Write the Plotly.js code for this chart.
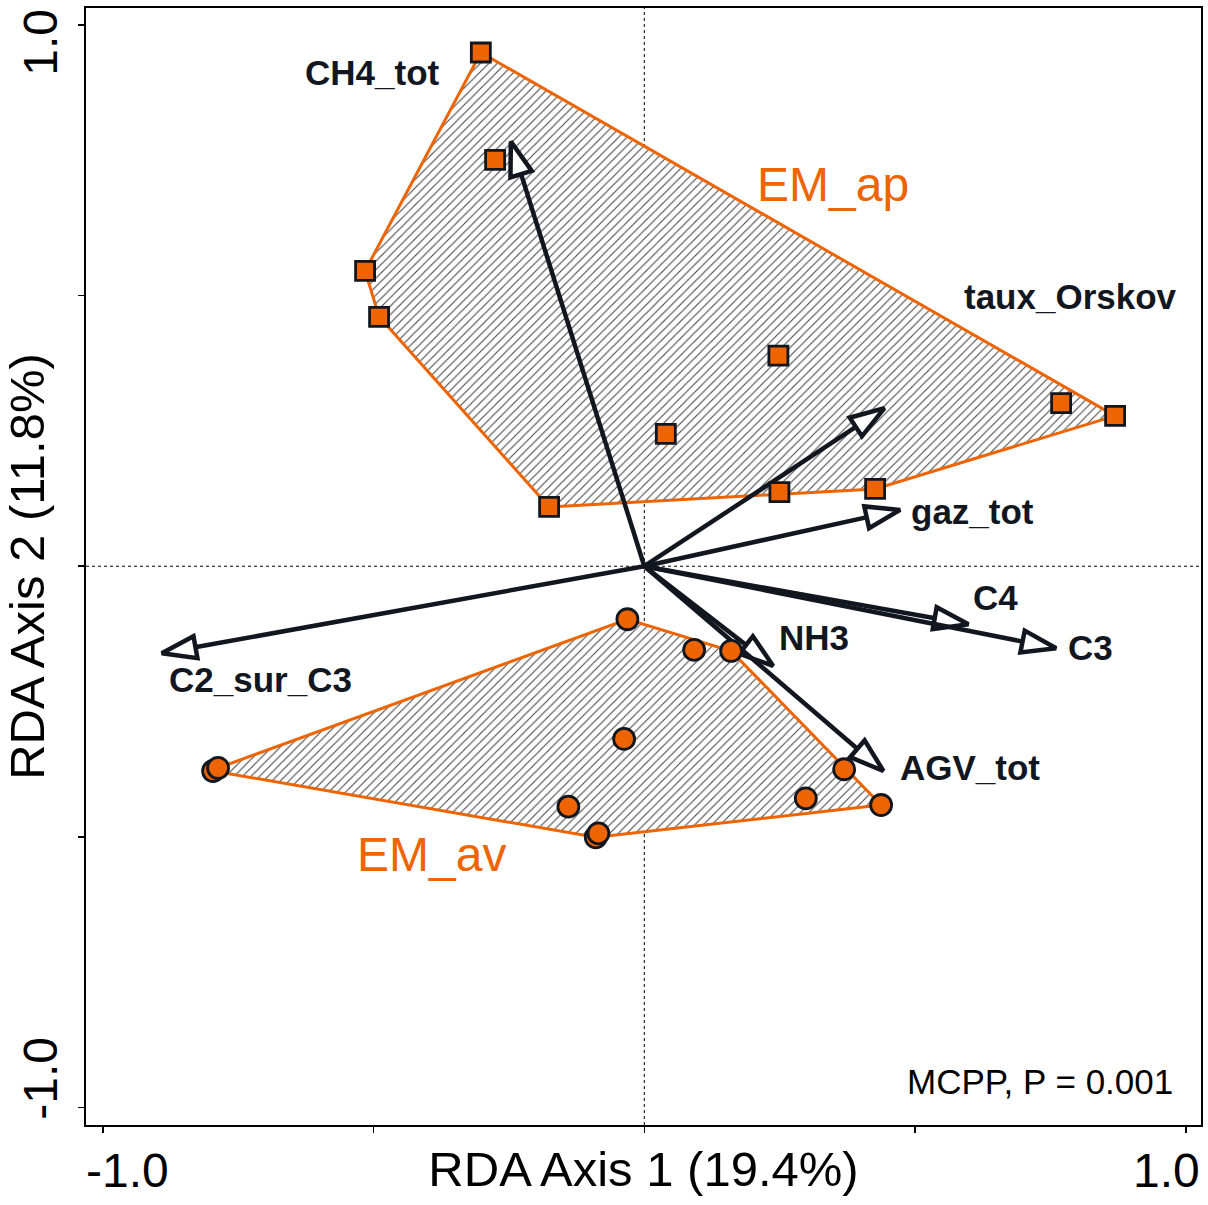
<!DOCTYPE html>
<html>
<head>
<meta charset="utf-8">
<script src="https://cdn.plot.ly/plotly-3.0.1.min.js"></script>
<style>html,body{margin:0;padding:0;background:#fff;}#chart{width:1208px;height:1205px;}</style>
</head>
<body>
<div id="chart"></div>
<script>
// ---- Data ----
var apX = [-0.3019, -0.2755, -0.5156, -0.4898, 0.2476, 0.0397, 0.7697, 0.8694, 0.2495, 0.4262, -0.1758];
var apY = [0.9488, 0.7506, 0.5455, 0.4606, 0.3891, 0.2444, 0.3011, 0.2777, 0.1367, 0.1428, 0.1096];

var avX = [-0.0312, 0.0920, 0.1603, -0.0373, -0.1402, -0.0896, -0.0848, 0.2982, 0.3690, 0.4373, -0.7963, -0.7871];
var avY = [-0.0979, -0.1546, -0.1565, -0.3190, -0.4441, -0.5006, -0.4933, -0.4286, -0.3750, -0.4410, -0.3782, -0.3726];

var varNames = ["CH4_tot", "taux_Orskov", "gaz_tot", "C4", "C3", "NH3", "AGV_tot", "C2_sur_C3"];
var varX = [-0.2465, 0.4434, 0.4724, 0.5985, 0.7605, 0.2379, 0.4415, -0.8911];
var varY = [0.7844, 0.2919, 0.1040, -0.1072, -0.1515, -0.1842, -0.3782, -0.1607];
var labelX = [-0.5027, 0.7873, 0.4890, 0.6035, 0.7790, 0.2450, 0.4685, -0.8810];
var labelY = [0.9113, 0.4975, 0.1003, -0.0576, -0.1509, -0.1315, -0.3726, -0.2100];
var labelAnchor = ["center", "center", "left", "left", "left", "left", "left", "left"];

var groupNames = ["EM_ap", "EM_av"];
var groupLabelX = [0.2046, -0.5341];
var groupLabelY = [0.7044, -0.5333];

var axisTickVals = [-1, -0.5, 0, 0.5, 1];
var axisTickText = ["-1.0", "1.0"];
var axisTitles = ["RDA Axis 1 (19.4%)", "RDA Axis 2 (11.8%)"];
var testText = "MCPP, P = 0.001";

// ---- Helpers ----
function hull(xs, ys) {
  var pts = xs.map(function (x, i) { return [x, ys[i]]; });
  pts.sort(function (a, b) { return a[0] - b[0] || a[1] - b[1]; });
  function cross(o, a, b) { return (a[0] - o[0]) * (b[1] - o[1]) - (a[1] - o[1]) * (b[0] - o[0]); }
  var lower = [], upper = [];
  pts.forEach(function (p) {
    while (lower.length >= 2 && cross(lower[lower.length - 2], lower[lower.length - 1], p) <= 0) lower.pop();
    lower.push(p);
  });
  for (var i = pts.length - 1; i >= 0; i--) {
    var p = pts[i];
    while (upper.length >= 2 && cross(upper[upper.length - 2], upper[upper.length - 1], p) <= 0) upper.pop();
    upper.push(p);
  }
  upper.pop(); lower.pop();
  var h = lower.concat(upper);
  h.push(h[0]);
  return { x: h.map(function (p) { return p[0]; }), y: h.map(function (p) { return p[1]; }) };
}

var ORANGE = "#EE6400";
var INK = "#12161f";
var FONT = "Liberation Sans, Arial, sans-serif";

var traces = [];
[[apX, apY], [avX, avY]].forEach(function (g) {
  var h = hull(g[0], g[1]);
  traces.push({
    type: "scatter", mode: "lines", x: h.x, y: h.y,
    fill: "toself", fillcolor: "white",
    fillpattern: { shape: "/", size: 6, solidity: 0.18, fgcolor: "#444444", bgcolor: "white" },
    line: { color: ORANGE, width: 3 }, hoverinfo: "skip"
  });
});

varNames.forEach(function (n, i) {
  traces.push({
    type: "scatter", mode: "lines+markers", name: n,
    x: [0, varX[i]], y: [0, varY[i]],
    line: { color: INK, width: 4.5 },
    marker: { symbol: "arrow", angleref: "previous", size: [0, 36], color: "white", opacity: 1,
              line: { color: INK, width: 4.5 } },
    hoverinfo: "skip"
  });
});

traces.push({
  type: "scatter", mode: "markers", x: apX, y: apY, name: "EM_ap",
  marker: { symbol: "square", size: 19, color: ORANGE, line: { color: INK, width: 2.8 } }
});
traces.push({
  type: "scatter", mode: "markers", x: avX, y: avY, name: "EM_av",
  marker: { symbol: "circle", size: 21, color: ORANGE, line: { color: INK, width: 2.8 } }
});

var annotations = [];
varNames.forEach(function (n, i) {
  annotations.push({
    x: labelX[i], y: labelY[i], xref: "x", yref: "y", text: n, showarrow: false,
    xanchor: labelAnchor[i], yanchor: "middle",
    font: { family: FONT, size: 35, color: INK, weight: "bold" }
  });
});
groupNames.forEach(function (n, i) {
  annotations.push({
    x: groupLabelX[i], y: groupLabelY[i], xref: "x", yref: "y", text: n, showarrow: false,
    xanchor: "left", yanchor: "middle",
    font: { family: FONT, size: 48, color: ORANGE }
  });
});
annotations.push({
  x: 0.9767, y: 0.0385, xref: "paper", yref: "paper", text: testText, showarrow: false,
  xanchor: "right", yanchor: "middle", font: { family: FONT, size: 35, color: "#000" }
});
// tick labels (only the end ticks are labelled, pulled inside)
annotations.push({ x: axisTickVals[0], y: 0, xref: "x", yref: "paper", text: axisTickText[0], showarrow: false,
  xanchor: "center", yanchor: "middle", xshift: 25, yshift: -45, font: { family: FONT, size: 48, color: "#000" } });
annotations.push({ x: axisTickVals[4], y: 0, xref: "x", yref: "paper", text: axisTickText[1], showarrow: false,
  xanchor: "center", yanchor: "middle", xshift: -19, yshift: -45, font: { family: FONT, size: 48, color: "#000" } });
annotations.push({ x: 0, y: axisTickVals[4], xref: "paper", yref: "y", text: axisTickText[1], showarrow: false,
  textangle: -90, xanchor: "center", yanchor: "middle", xshift: -45, yshift: -18, font: { family: FONT, size: 48, color: "#000" } });
annotations.push({ x: 0, y: axisTickVals[0], xref: "paper", yref: "y", text: axisTickText[0], showarrow: false,
  textangle: -90, xanchor: "center", yanchor: "middle", xshift: -45, yshift: 29, font: { family: FONT, size: 48, color: "#000" } });

var axisBase = {
  showgrid: false, zeroline: false, showline: true, linecolor: "#000", linewidth: 2, mirror: true,
  tickvals: axisTickVals, ticks: "outside", ticklen: 6, tickwidth: 1.5, tickcolor: "#000",
  showticklabels: false
};

var layout = {
  width: 1208, height: 1205,
  margin: { l: 86, r: 7, t: 8, b: 80 },
  paper_bgcolor: "white", plot_bgcolor: "white",
  showlegend: false,
  font: { family: FONT },
  xaxis: Object.assign({}, axisBase, {
    range: [-1.031, 1.028],
    title: { text: axisTitles[0], font: { family: FONT, size: 49, color: "#000" }, standoff: 20 }
  }),
  yaxis: Object.assign({}, axisBase, {
    range: [-1.032, 1.031],
    title: { text: axisTitles[1], font: { family: FONT, size: 49, color: "#000" }, standoff: 18 }
  }),
  shapes: [
    { type: "line", xref: "x", yref: "paper", x0: 0, x1: 0, y0: 0, y1: 1, layer: "below",
      line: { color: "#000", width: 1, dash: "dot" } },
    { type: "line", xref: "paper", yref: "y", x0: 0, x1: 1, y0: 0, y1: 0, layer: "below",
      line: { color: "#000", width: 1, dash: "dot" } }
  ],
  annotations: annotations
};

Plotly.newPlot("chart", traces, layout, { displayModeBar: false, staticPlot: true });
</script>
</body>
</html>
